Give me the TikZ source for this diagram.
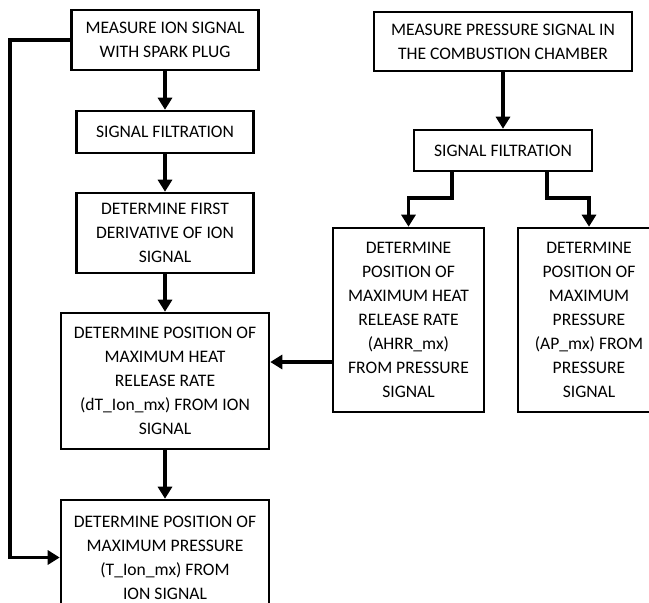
\documentclass[tikz,border=0pt]{standalone}
\usepackage{fontspec}
\setmainfont{Carlito}
\usetikzlibrary{arrows.meta,positioning}

\begin{document}
\begin{tikzpicture}[x=0.025cm,y=-0.025cm,
every node/.style={draw,line width=1.8pt,align=center,inner sep=0pt,
  font=\fontsize{12.5}{17}\selectfont},
arr/.style={line width=2.8pt,-{Triangle[length=3mm,width=3.5mm]}}]
\useasboundingbox (0,0) rectangle (649,603);
\clip (0,0) rectangle (649,603);
% ion signal side
\node[minimum width=4.675cm,minimum height=1.5cm] (ion) at (165,40)
  {MEASURE ION SIGNAL\\WITH SPARK PLUG};
\node[minimum width=4.425cm,minimum height=1.05cm] (filtA) at (165,132)
  {SIGNAL FILTRATION};
\node[minimum width=4.425cm,minimum height=2cm] (deriv) at (165,233)
  {DETERMINE FIRST\\DERIVATIVE OF ION\\SIGNAL};
\node[minimum width=5.2cm,minimum height=3.4cm] (hrrI) at (165,381)
  {DETERMINE POSITION OF\\MAXIMUM HEAT\\RELEASE RATE\\(dT\_Ion\_mx) FROM ION\\SIGNAL};
\node[minimum width=5.2cm,minimum height=2.875cm] (pmaxI) at (165,557.5)
  {DETERMINE POSITION OF\\MAXIMUM PRESSURE\\(T\_Ion\_mx) FROM\\ION SIGNAL};
% pressure signal side
\node[minimum width=6.45cm,minimum height=1.475cm] (press) at (503,41.5)
  {MEASURE PRESSURE SIGNAL IN\\THE COMBUSTION CHAMBER};
\node[minimum width=4.45cm,minimum height=1.025cm] (filtB) at (503,150.5)
  {SIGNAL FILTRATION};
\node[minimum width=3.775cm,minimum height=4.6cm] (hrrP) at (408.5,320)
  {DETERMINE\\POSITION OF\\MAXIMUM HEAT\\RELEASE RATE\\(AHRR\_mx)\\FROM PRESSURE\\SIGNAL};
\node[minimum width=3.55cm,minimum height=4.6cm] (pmaxP) at (589,320)
  {DETERMINE\\POSITION OF\\MAXIMUM\\PRESSURE\\(AP\_mx) FROM\\PRESSURE\\SIGNAL};
\coordinate (j) at (0,362);
% arrows
\draw[arr] (ion)--(filtA);
\draw[arr] (filtA)--(deriv);
\draw[arr] (deriv)--(hrrI);
\draw[arr] (hrrI)--(pmaxI);
\draw[arr] (ion.west)--++(-60,0)|-(pmaxI.west);
\draw[arr] (press)--(filtB);
\draw[arr] ([xshift=-1.275cm]filtB.south)--++(0,26)-|(hrrP.north);
\draw[arr] ([xshift=1.1cm]filtB.south)--++(0,26)-|(pmaxP.north);
\draw[arr] (hrrP.west |- j)--(hrrI.east |- j);
\end{tikzpicture}
\end{document}
